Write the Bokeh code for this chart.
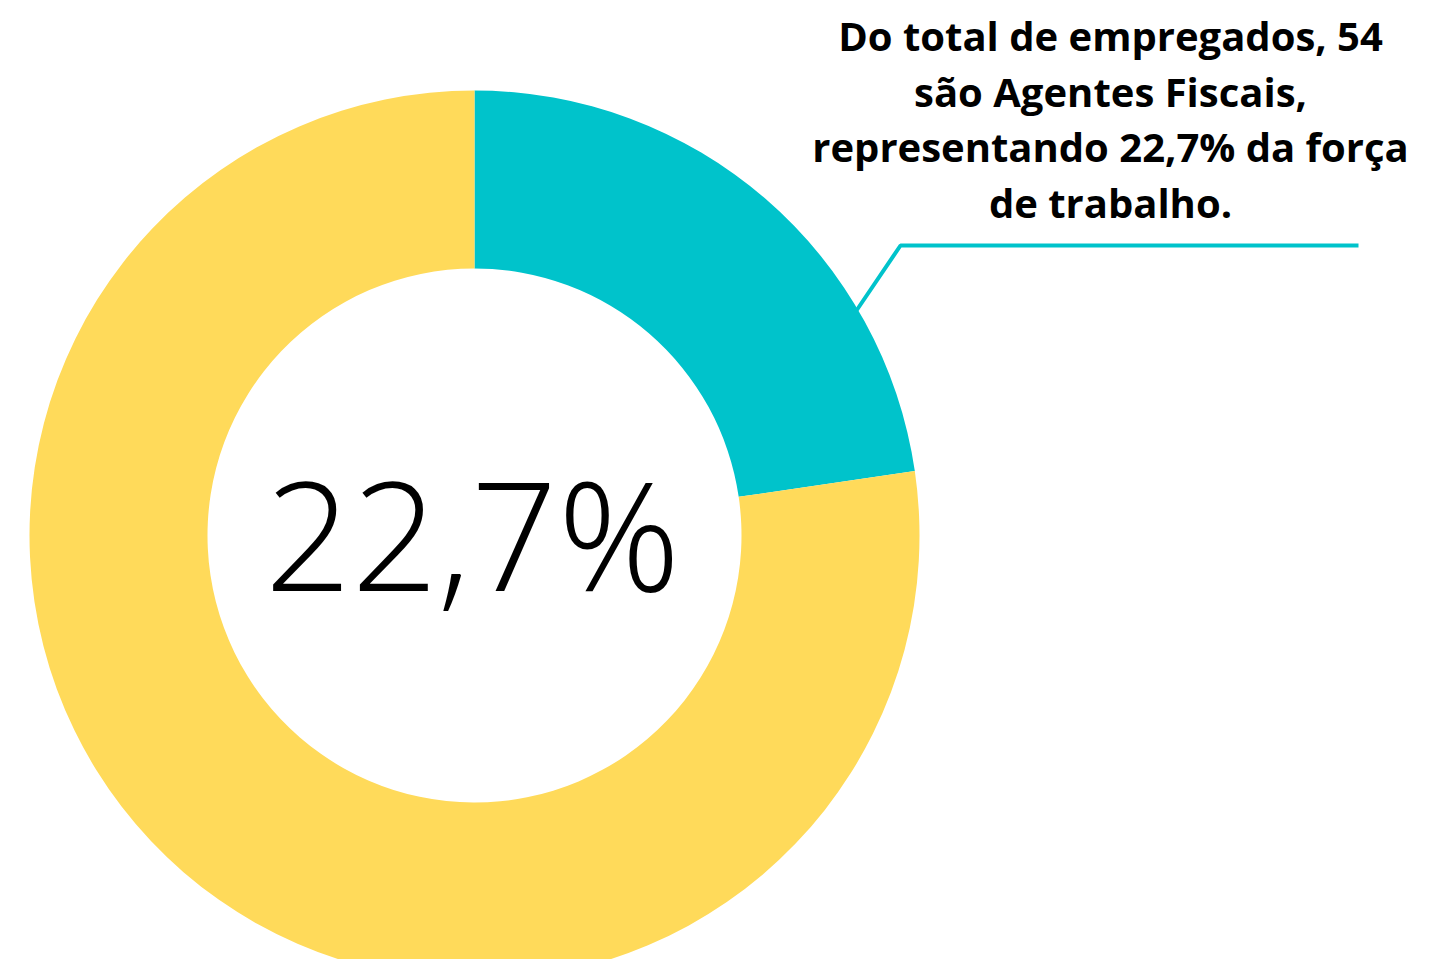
import numpy as np
from bokeh.plotting import figure
from bokeh.models import Range1d, Label
from bokeh.embed import file_html
from bokeh.resources import INLINE

categories = ["Agentes Fiscais", "Demais empregados"]
counts = [54, 184]
colors = ["#00C3CB", "#FFDA5A"]
center_label = "22,7%"
note_lines = [
    "Do total de empregados, 54",
    "são Agentes Fiscais,",
    "representando 22,7% da força",
    "de trabalho.",
]

W, H = 1413, 959
p = figure(width=W, height=H, output_backend="svg", toolbar_location=None,
           x_range=Range1d(0, W), y_range=Range1d(975 - H, 975),
           min_border=0, outline_line_color=None)
p.axis.visible = False
p.grid.visible = False

cx, cy = 474, 975 - 535
fr = np.array(counts) / sum(counts)
cum = np.concatenate([[0], np.cumsum(fr)])
# clockwise from top
for i in range(len(counts)):
    a_start = np.pi / 2 - 2 * np.pi * cum[i + 1]
    a_end = np.pi / 2 - 2 * np.pi * cum[i]
    p.annular_wedge(x=cx, y=cy, inner_radius=267, outer_radius=445,
                    start_angle=a_start, end_angle=a_end,
                    fill_color=colors[i], line_color=None)

p.line(x=[856, 900, 1358], y=[975 - 310, 975 - 245, 975 - 245],
       line_color=colors[0], line_width=4)

p.add_layout(Label(x=472, y=975 - 532, text=center_label, text_align="center",
                   text_baseline="alphabetic", text_font="Open Sans Light",
                   text_font_size="152px", text_color="#000000"))

baselines = [35, 90.5, 146, 202]
for t, b in zip(note_lines, baselines):
    p.add_layout(Label(x=1110, y=975 - b, text=t, text_align="center",
                       text_baseline="alphabetic", text_font="Open Sans",
                       text_font_style="bold", text_font_size="40px",
                       text_color="#000000"))

open("out.html", "w").write(file_html(p, INLINE))
